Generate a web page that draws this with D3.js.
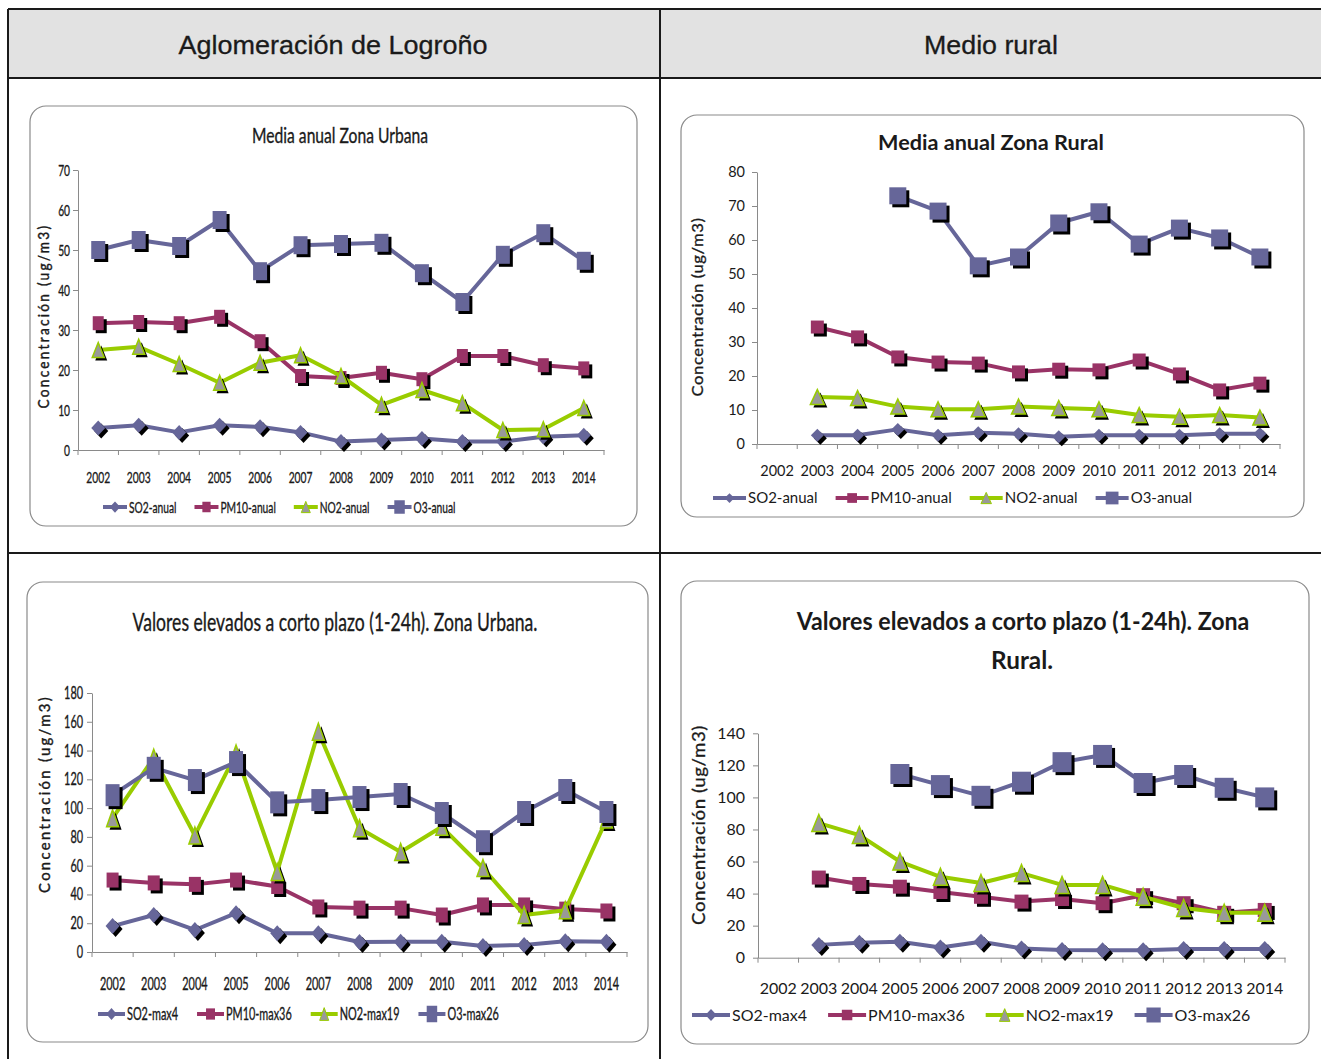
<!DOCTYPE html>
<html>
<head>
<meta charset="utf-8">
<script src="https://cdn.jsdelivr.net/npm/d3@7"></script>
<style>
body { margin: 0; background: #fff; }
svg { display: block; }
</style>
</head>
<body>
<svg id="page" width="1321" height="1059"></svg>
<script>
// years on the x axis
const years = ['2002', '2003', '2004', '2005', '2006', '2007', '2008', '2009', '2010', '2011', '2012', '2013', '2014']

// Media anual Zona Urbana
const urbSO2 = [5.5, 6.2, 4.4, 6.2, 5.8, 4.4, 2.1, 2.5, 2.9, 2.1, 2.1, 3.3, 3.7]
const urbPM10 = [31.7, 32, 31.7, 33.3, 27.2, 18.5, 18, 19.3, 17.7, 23.5, 23.5, 21.2, 20.4]
const urbNO2 = [25, 25.8, 21.5, 16.8, 21.8, 23.7, 18.5, 11.3, 15, 11.7, 5, 5.2, 10.5]
const urbO3 = [50, 52.5, 51, 57.5, 44.7, 51.2, 51.5, 51.8, 44.2, 37, 48.8, 54.2, 47.3]

// Media anual Zona Rural
const rurSO2 = [null, 2.6, 2.6, 4.3, 2.6, 3.3, 3, 2.1, 2.6, 2.6, 2.6, 3, 3]
const rurPM10 = [null, 34.4, 31.5, 25.6, 24.1, 23.8, 21.2, 22, 21.8, 24.7, 20.6, 15.9, 17.9]
const rurNO2 = [null, 13.8, 13.5, 11, 10.2, 10.2, 11, 10.6, 10.2, 8.5, 8, 8.5, 7.8]
const rurO3 = [null, null, null, 73, 68.5, 52.4, 55, 65, 68.3, 58.8, 63.5, 60.6, 55]

// Valores elevados a corto plazo, Zona Urbana
const urbSO2max = [18, 25.7, 15.3, 27, 13, 13, 7, 7.2, 7.2, 4.2, 4.9, 7.5, 7.2]
const urbPM10max = [50, 48, 47, 50, 45.5, 31.3, 30.5, 30.5, 25.7, 32.7, 32.7, 29.8, 28.5]
const urbNO2max = [93, 135, 81, 138, 55.6, 153, 86, 69.5, 87, 58.4, 25.7, 29, 92]
const urbO3max = [109, 128, 119.5, 132, 104, 105.6, 107.7, 109.8, 96.6, 77, 97.3, 112.6, 97.3]

// Valores elevados a corto plazo, Zona Rural
const rurSO2max = [null, 8, 9.4, 10, 6.3, 10, 5.8, 4.8, 4.6, 4.6, 5.4, 5.4, 5.4]
const rurPM10max = [null, 50, 46, 44.3, 41, 38, 35, 36.6, 34, 39, 34, 28, 29.8]
const rurNO2max = [null, 84, 76.5, 60, 50.5, 46.6, 52.8, 45.4, 45.4, 38, 31, 28, 28]
const rurO3max = [null, null, null, 114.6, 107.7, 101, 109.8, 122, 126.5, 109, 114, 106, 100]

const anualNames = ['SO2-anual', 'PM10-anual', 'NO2-anual', 'O3-anual']
const maxNames = ['SO2-max4', 'PM10-max36', 'NO2-max19', 'O3-max26']

// series styles: line colour, marker shape, marker fill
const styles = [
	{ color: '#666699', shape: 'diamond', fill: '#666699' },
	{ color: '#993366', shape: 'square', fill: '#993366' },
	{ color: '#99cc00', shape: 'triangle', fill: '#999999' },
	{ color: '#666699', shape: 'square', fill: '#666699' },
]

const svg = d3.select('#page')
const ink = '#1a1a1a'

//table frame
svg.append('rect').attr('x', 8).attr('y', 9).attr('width', 1313).attr('height', 69).attr('fill', '#e2e2e2')
const frameLines = [
	[8, 9, 1321, 9], [8, 78, 1321, 78], [8, 553, 1321, 553],
	[8, 9, 8, 1059], [660, 9, 660, 1059],
]
svg.selectAll('line.frame')
	.data(frameLines)
	.enter()
	.append('line')
	.attr('x1', d => d[0]).attr('y1', d => d[1])
	.attr('x2', d => d[2]).attr('y2', d => d[3])
	.attr('stroke', ink)
	.attr('stroke-width', 2)

function label(g, str, x, y, o) {
	const t = g.append('text')
		.attr('text-anchor', o.anchor || 'middle')
		.attr('font-family', o.family || 'Lato')
		.attr('font-size', o.size)
		.attr('font-weight', o.weight || 'normal')
		.attr('letter-spacing', o.spacing || 0)
		.attr('fill', ink)
		.attr('stroke', o.stroke ? ink : 'none')
		.attr('stroke-width', o.stroke || 0)
		.text(str)
	let sx = o.sx || 1
	if (o.fitW) sx = o.fitW / t.node().getComputedTextLength()
	t.attr('transform', 'translate(' + x + ',' + y + ')' + (o.rotate ? ' rotate(' + o.rotate + ')' : '') + ' scale(' + sx + ',1)')
	return t
}

label(svg, 'Aglomeración de Logroño', 333, 54, { family: 'Liberation Sans', size: 25, fitW: 309, stroke: 0.3 })
label(svg, 'Medio rural', 991, 54, { family: 'Liberation Sans', size: 25, fitW: 134, stroke: 0.3 })

function shapePath(shape, w, h) {
	const a = w / 2, b = h / 2
	if (shape === 'diamond') return 'M0,' + -b + 'L' + a + ',0L0,' + b + 'L' + -a + ',0Z'
	if (shape === 'triangle') return 'M0,' + -b + 'L' + a + ',' + b + 'L' + -a + ',' + b + 'Z'
	return 'M' + -a + ',' + -b + 'H' + a + 'V' + b + 'H' + -a + 'Z'
}

function drawChart(c) {
	const g = svg.append('g')
	const ts = c.textStroke || 0

	g.append('rect')
		.attr('x', c.box[0]).attr('y', c.box[1])
		.attr('width', c.box[2]).attr('height', c.box[3])
		.attr('rx', 16).attr('ry', 16)
		.attr('fill', '#fff')
		.attr('stroke', '#8a8a8a')
		.attr('stroke-width', 1.2)

	c.title.forEach(function (t) {
		label(g, t.text, t.x, t.y, { size: t.size, weight: c.titleWeight, fitW: t.w, family: c.family, stroke: ts })
	})

	const x = d3.scaleBand().domain(years).range([c.plot.x0, c.plot.x1])
	const y = d3.scaleLinear().domain([0, c.yMax]).range([c.plot.y0, c.plot.y1])

	//y axis
	const yAxis = g.append('g')
		.attr('transform', 'translate(' + c.plot.x0 + ',0)')
		.call(d3.axisLeft(y).tickValues(d3.range(0, c.yMax + c.yStep, c.yStep)).tickSize(5).tickSizeOuter(0).tickPadding(c.yPad))
	yAxis.selectAll('path, line').attr('stroke', '#8a8a8a')
	yAxis.selectAll('text')
		.attr('font-family', c.family)
		.attr('font-size', c.tickSize)
		.attr('fill', ink)
		.attr('stroke', ts ? ink : 'none')
		.attr('stroke-width', ts)
		.attr('transform', 'scale(' + c.sx + ',1)')
		.attr('x', -(5 + c.yPad) / c.sx)

	//x axis
	const xAxis = g.append('g')
		.attr('transform', 'translate(0,' + c.plot.y0 + ')')
		.call(d3.axisBottom(x).tickSize(0).tickSizeOuter(0).tickPadding(c.xPad))
	xAxis.select('path').attr('stroke', '#8a8a8a')
	xAxis.selectAll('text')
		.attr('font-family', c.family)
		.attr('font-size', c.tickSize)
		.attr('fill', ink)
		.attr('stroke', ts ? ink : 'none')
		.attr('stroke-width', ts)
		.attr('transform', 'scale(' + c.sx + ',1)')
	xAxis.selectAll('.edge')
		.data(years.map(d => x(d)).concat([c.plot.x1]))
		.enter()
		.append('line')
		.attr('x1', d => d).attr('x2', d => d)
		.attr('y1', 0).attr('y2', 5)
		.attr('stroke', '#8a8a8a')

	//y title
	label(g, 'Concentración (ug/m3)', c.yTitle.x, c.yTitle.y, {
		size: c.yTitle.size, rotate: -90, fitW: c.yTitle.w, family: c.family,
		spacing: c.yTitle.spacing, weight: c.yTitle.weight, stroke: c.yTitle.stroke,
	})

	//series
	const cx = i => x(years[i]) + x.bandwidth() / 2
	const line = d3.line()
		.defined(d => d != null)
		.x((d, i) => cx(i))
		.y(d => y(d))

	c.series.forEach(function (vals, s) {
		const st = styles[s]
		const m = c.markers[s]
		const sg = g.append('g')
		sg.append('path')
			.datum(vals)
			.attr('d', line)
			.attr('fill', 'none')
			.attr('stroke', st.color)
			.attr('stroke-width', c.lineW)
			.attr('stroke-linejoin', 'round')
		const pts = vals.map((v, i) => ({ v: v, i: i })).filter(d => d.v != null)
		//black shadow under each marker
		sg.selectAll('.shadow')
			.data(pts)
			.enter()
			.append('path')
			.attr('d', shapePath(st.shape, m[0], m[1]))
			.attr('transform', d => 'translate(' + (cx(d.i) + 3) + ',' + (y(d.v) + 3) + ')')
			.attr('fill', '#000')
		sg.selectAll('.mark')
			.data(pts)
			.enter()
			.append('path')
			.attr('d', shapePath(st.shape, m[0], m[1]))
			.attr('transform', d => 'translate(' + cx(d.i) + ',' + y(d.v) + ')')
			.attr('fill', st.fill)
			.attr('stroke', st.shape === 'triangle' ? st.color : 'none')
			.attr('stroke-width', 1.5)
	})

	//legend
	let lx = c.legend.x
	c.legend.names.forEach(function (name, s) {
		const st = styles[s]
		const m = c.markers[s]
		const L = c.legend.len
		g.append('line')
			.attr('x1', lx).attr('x2', lx + L)
			.attr('y1', c.legend.y).attr('y2', c.legend.y)
			.attr('stroke', st.color)
			.attr('stroke-width', c.lineW)
		g.append('path')
			.attr('d', shapePath(st.shape, m[0] * 0.75, m[1] * 0.75))
			.attr('transform', 'translate(' + (lx + L / 2) + ',' + c.legend.y + ')')
			.attr('fill', st.fill)
			.attr('stroke', st.shape === 'triangle' ? st.color : 'none')
		const t = label(g, name, lx + L + 2, c.legend.y + c.legend.size * 0.36, {
			anchor: 'start', size: c.legend.size, sx: c.sx, family: c.family, stroke: ts,
		})
		lx += L + 2 + t.node().getComputedTextLength() * c.sx + c.legend.gap
	})
}

drawChart({
	box: [30, 106, 607, 420],
	family: 'Lato', sx: 0.64, tickSize: 16, titleWeight: 'normal', textStroke: 0.35,
	title: [{ text: 'Media anual Zona Urbana', x: 340, y: 143, size: 22, w: 176 }],
	plot: { x0: 78, x1: 604, y0: 450, y1: 170 },
	yMax: 70, yStep: 10, yPad: 3, xPad: 22,
	yTitle: { x: 49, y: 316, size: 15, w: 185, spacing: 2.5, stroke: 0.4 },
	lineW: 4,
	markers: [[14, 15], [11, 14], [12, 15], [14, 18]],
	series: [urbSO2, urbPM10, urbNO2, urbO3],
	legend: { names: anualNames, x: 103, y: 507, len: 24, size: 16, gap: 18 },
})

drawChart({
	box: [681, 115, 623, 402],
	family: 'Lato', sx: 1, tickSize: 14.5, titleWeight: 'bold',
	title: [{ text: 'Media anual Zona Rural', x: 991, y: 150, size: 20, w: 226 }],
	plot: { x0: 757, x1: 1280, y0: 444, y1: 172 },
	yMax: 80, yStep: 10, yPad: 7, xPad: 22,
	yTitle: { x: 703, y: 307, size: 15, w: 179, spacing: 0.5, stroke: 0.3 },
	lineW: 4,
	markers: [[13, 13], [13, 13], [14, 15], [17, 17]],
	series: [rurSO2, rurPM10, rurNO2, rurO3],
	legend: { names: anualNames, x: 713, y: 498, len: 33, size: 15, gap: 18 },
})

drawChart({
	box: [27, 582, 621, 460],
	family: 'Lato', sx: 0.64, tickSize: 17, titleWeight: 'normal', textStroke: 0.35,
	title: [{ text: 'Valores elevados a corto plazo (1-24h). Zona Urbana.', x: 335, y: 631, size: 25, w: 405 }],
	plot: { x0: 92, x1: 627, y0: 952, y1: 693 },
	yMax: 180, yStep: 20, yPad: 4, xPad: 26,
	yTitle: { x: 50, y: 794, size: 16, w: 198, spacing: 2.5, stroke: 0.4 },
	lineW: 4,
	markers: [[14, 16], [12, 15], [12, 17], [14, 22]],
	series: [urbSO2max, urbPM10max, urbNO2max, urbO3max],
	legend: { names: maxNames, x: 98, y: 1014, len: 27, size: 17, gap: 19 },
})

drawChart({
	box: [681, 581, 628, 463],
	family: 'Lato', sx: 1, tickSize: 16, titleWeight: 'bold',
	title: [
		{ text: 'Valores elevados a corto plazo (1-24h). Zona', x: 1023, y: 630, size: 24, w: 453 },
		{ text: 'Rural.', x: 1022, y: 669, size: 24, w: 62 },
	],
	plot: { x0: 758, x1: 1285, y0: 957.7, y1: 733.3 },
	yMax: 140, yStep: 20, yPad: 8, xPad: 25,
	yTitle: { x: 705, y: 825, size: 17, w: 200, spacing: 0.5, stroke: 0.3 },
	lineW: 4,
	markers: [[15, 16], [14, 14], [14, 17], [19, 20]],
	series: [rurSO2max, rurPM10max, rurNO2max, rurO3max],
	legend: { names: maxNames, x: 692, y: 1015, len: 38, size: 16, gap: 21 },
})
</script>
</body>
</html>
